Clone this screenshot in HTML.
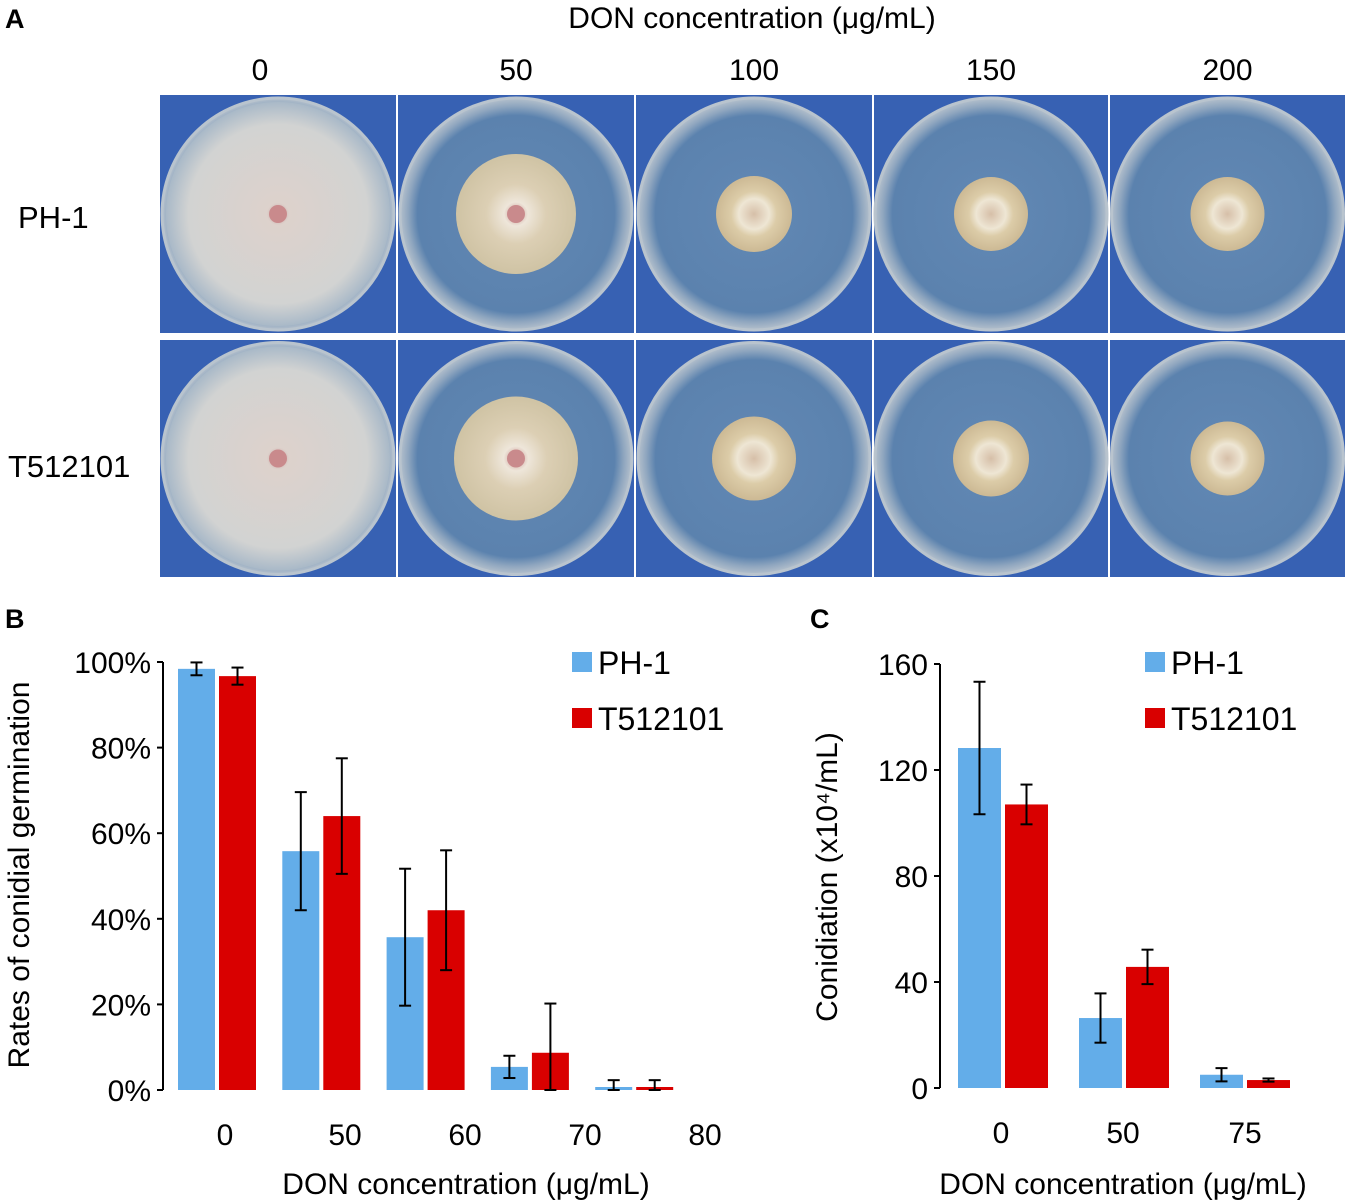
<!DOCTYPE html>
<html><head><meta charset="utf-8"><style>
html,body{margin:0;padding:0;background:#fff;}
svg{display:block;font-family:"Liberation Sans",Arial,sans-serif;}
</style></head><body>
<svg id="fig" width="1350" height="1204" viewBox="0 0 1350 1204">
<defs>
<radialGradient id="agar" cx="50%" cy="50%" r="50%"><stop offset="0" stop-color="#6288b4"/><stop offset="0.85" stop-color="#5b82ae"/><stop offset="0.93" stop-color="#8fa6bf"/><stop offset="1" stop-color="#b4c0cc"/></radialGradient>
<radialGradient id="bigcol" cx="50%" cy="50%" r="50%"><stop offset="0" stop-color="#c89a9a"/><stop offset="0.1" stop-color="#ddd2cc"/><stop offset="0.8" stop-color="#d2d3d2"/><stop offset="1" stop-color="#a9b9c8"/></radialGradient>
<radialGradient id="midcol" cx="50%" cy="50%" r="50%"><stop offset="0" stop-color="#c89590"/><stop offset="0.2" stop-color="#eee6da"/><stop offset="0.5" stop-color="#dccfb4"/><stop offset="1" stop-color="#cfc3a4"/></radialGradient>
<radialGradient id="smcol" cx="50%" cy="50%" r="50%"><stop offset="0" stop-color="#d6bfa8"/><stop offset="0.4" stop-color="#eee6d4"/><stop offset="0.6" stop-color="#dccca8"/><stop offset="1" stop-color="#ccb994"/></radialGradient>
</defs>
<text x="5" y="28" font-size="27" font-weight="bold">A</text>
<text x="752" y="28" font-size="30" text-anchor="middle">DON concentration (μg/mL)</text>
<g id="photos"></g>
<text x="18" y="228" font-size="31">PH-1</text>
<text x="8" y="477" font-size="31">T512101</text>
<text x="5" y="628" font-size="27" font-weight="bold">B</text>
<text x="810" y="628" font-size="27" font-weight="bold">C</text>
<g id="chartB"></g>
<g id="chartC"></g>
</svg>
<script>
// Panel A
const concA = ["0","50","100","150","200"];
const colonyR1 = [112, 60, 38, 37, 37];
const colonyR2 = [112, 62, 42, 38, 37];
// Panel B data
const catsB = ["0","50","60","70","80"];
const ph1B = [98.4, 55.8, 35.7, 5.4, 0.7];
const ph1BErr = [1.5, 13.8, 16, 2.6, 1.6];
const tB = [96.7, 64, 42, 8.7, 0.7];
const tBErr = [2, 13.5, 14, 11.5, 1.6];
const ticksB = [0,20,40,60,80,100];
// Panel C data
const catsC = ["0","50","75"];
const ph1C = [128.3, 26.4, 5];
const ph1CErr = [25, 9.3, 2.5];
const tC = [107, 45.7, 3];
const tCErr = [7.5, 6.5, 0.6];
const ticksC = [0,40,80,120,160];

const NS="http://www.w3.org/2000/svg";
function mk(tag, attrs, parent, text){const e=document.createElementNS(NS,tag);for(const k in attrs)e.setAttribute(k,attrs[k]);if(text!==undefined)e.textContent=text;parent.appendChild(e);return e;}

const photos=document.getElementById('photos');
const colX=[160,398,636,874,1110], colW=[236,236,236,234,235];
const rowY=[95,340], rowH=[238,237];
concA.forEach((c,i)=>{
  const t=mk('text',{x:colX[i]+colW[i]/2-(i==0?18:0),y:80,'font-size':30,'text-anchor':'middle'},document.getElementById('fig'),c);
  
  
  [0,1].forEach(r=>{
    const g=mk('g',{},photos);
    
    
    mk('rect',{x:colX[i],y:rowY[r],width:colW[i],height:rowH[r],fill:'#3761b3'},g);
    const cx=colX[i]+colW[i]/2, cy=rowY[r]+rowH[r]/2;
    mk('circle',{cx:cx,cy:cy,r:116,fill:'url(#agar)',stroke:'#b9c4ce','stroke-width':3},g);
    const R=(r?colonyR2:colonyR1)[i];
    mk('circle',{cx:cx,cy:cy,r:R,fill:i==0?'url(#bigcol)':(i==1?'url(#midcol)':'url(#smcol)')},g);
    if(i<2) mk('circle',{cx:cx,cy:cy,r:9,fill:'#c98a8c'},g);
  });
});

function barChart(g, o){
  const y=v=>o.y0-(v/o.max)*(o.y0-o.yTop);
  mk('line',{x1:o.ax,y1:o.yTop,x2:o.ax,y2:o.y0,stroke:'#000','stroke-width':2},g);
  o.ticks.forEach(t=>{
    mk('line',{x1:o.ax-6,y1:y(t),x2:o.ax,y2:y(t),stroke:'#000','stroke-width':2},g);
    const tl=mk('text',{x:o.ax-12,y:y(t)+11,'font-size':30,'text-anchor':'end'},g,t+o.suffix);
    
    
  });
  o.cats.forEach((c,i)=>{
    const gx=o.g0+i*o.gs;
    [[o.s1,o.e1,'#63ade9',0],[o.s2,o.e2,'#d90000',o.bw+4]].forEach(([s,e,col,off],k)=>{
      const x=gx+off, v=s[i];
      const b=mk('rect',{x:x,y:y(v),width:o.bw,height:o.y0-y(v),fill:col},g);
      
      
      const cx=x+o.bw/2, lo=Math.max(0,v-e[i]), hi=v+e[i];
      mk('line',{x1:cx,y1:y(hi),x2:cx,y2:y(lo),stroke:'#000','stroke-width':2},g);
      mk('line',{x1:cx-6,y1:y(hi),x2:cx+6,y2:y(hi),stroke:'#000','stroke-width':2},g);
      mk('line',{x1:cx-6,y1:y(lo),x2:cx+6,y2:y(lo),stroke:'#000','stroke-width':2},g);
    });
    const xl=mk('text',{x:o.lx0+i*o.lgs,y:o.y0+55,'font-size':30,'text-anchor':'middle'},g,c);
    
    
  });
  const xt=mk('text',{x:o.xtx,y:1194,'font-size':30,'text-anchor':'middle'},g,'DON concentration (μg/mL)');
  
  
  const yt=mk('text',{x:0,y:0,'font-size':30,'text-anchor':'middle',transform:`translate(${o.ytx},${o.yty}) rotate(-90)`},g,o.ytitle);
  
  
  [['PH-1','#63ade9',0],['T512101','#d90000',56]].forEach(([n,col,dy])=>{
    const lg=mk('g',{},g);
    
    
    mk('rect',{x:o.lgx,y:o.lgy+dy-18,width:20,height:20,fill:col},lg);
    mk('text',{x:o.lgx+26,y:o.lgy+dy+4,'font-size':32},lg,n);
  });
}
barChart(document.getElementById('chartB'),{ax:163,y0:1090,yTop:662,max:100,ticks:ticksB,suffix:'%',cats:catsB,s1:ph1B,e1:ph1BErr,s2:tB,e2:tBErr,
  g0:178,gs:104.3,bw:37,lx0:225,lgs:120,xtx:466,ytx:29,yty:875,ytitle:'Rates of conidial germination',lgx:572,lgy:670});
barChart(document.getElementById('chartC'),{ax:940,y0:1088,yTop:664,max:160,ticks:ticksC,suffix:'',cats:catsC,s1:ph1C,e1:ph1CErr,s2:tC,e2:tCErr,
  g0:958,gs:121,bw:43,lx0:1001,lgs:122,xtx:1123,ytx:837,yty:877,ytitle:'Conidiation (x10\u2074/mL)',lgx:1145,lgy:670});
</script>
</body></html>
